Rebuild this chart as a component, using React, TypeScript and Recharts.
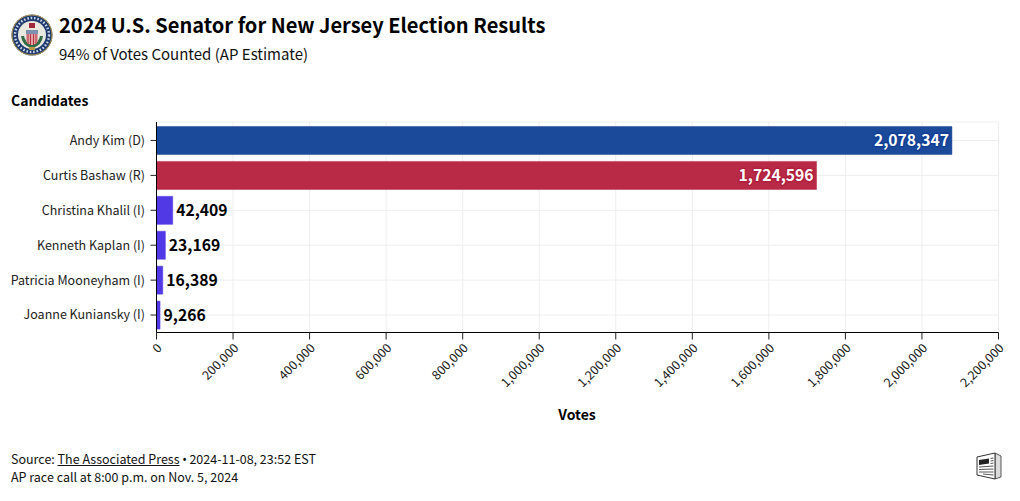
import React from 'react';
import { BarChart, Bar, XAxis, YAxis, CartesianGrid, Cell, LabelList } from 'recharts';

const candidates = [
  'Andy Kim (D)',
  'Curtis Bashaw (R)',
  'Christina Khalil (I)',
  'Kenneth Kaplan (I)',
  'Patricia Mooneyham (I)',
  'Joanne Kuniansky (I)',
];
const votes = [2078347, 1724596, 42409, 23169, 16389, 9266];
const barColors = ['#1c4a9a', '#b82a45', '#5239e6', '#5239e6', '#5239e6', '#5239e6'];
const labelBacks = ['#123f96', '#b01f3e'];
const voteTicks = [0, 200000, 400000, 600000, 800000, 1000000, 1200000, 1400000, 1600000, 1800000, 2000000, 2200000];

const FONT = '"Noto Sans CJK SC", "Noto Sans", sans-serif';
const data = candidates.map((name, i) => ({ name, votes: votes[i] }));

const fmt = (v: number) => v.toLocaleString('en-US');

// big bars get the number inside, small ones next to the bar
const VoteLabel = (props: any) => {
  const { x, y, width, height, value, index } = props;
  const inside = value > 500000;
  const cy = y + height / 2;
  const label = fmt(value);
  if (inside) {
    return (
      <text
        x={x + width - 3}
        y={cy}
        dy="0.36em"
        textAnchor="end"
        fontSize={15.7}
        fontWeight={700}
        fill="#fff"
        stroke={labelBacks[index]}
        strokeWidth={3}
        strokeLinejoin="round"
        paintOrder="stroke"
        fontFamily={FONT}
      >
        {label}
      </text>
    );
  }
  return (
    <text x={x + width + 3.5} y={cy} dy="0.36em" fontSize={15.7} fontWeight={700} fill="#000" fontFamily={FONT}>
      {label}
    </text>
  );
};

const Seal = () => (
  <svg width={42} height={42} viewBox="0 0 42 42" style={{ position: 'absolute', left: 11, top: 14 }}>
    <circle cx={21} cy={21} r={20.5} fill="#1f3a6e" />
    <circle cx={21} cy={21} r={20} fill="none" stroke="#b79a4a" strokeWidth={1} />
    <circle cx={21} cy={21} r={17} fill="none" stroke="#c9d3e6" strokeWidth={2.4} strokeDasharray="1.6 1.8" />
    <circle cx={21} cy={21} r={14} fill="#e9e8e0" />
    <path d="M10 22 Q11 31 20 34 L22 34 Q31 31 32 22 L29 22 Q28 28 21 31 Q14 28 13 22 Z" fill="#2f6b45" />
    <rect x={15} y={16} width={12} height={4} fill="#7f8fae" />
    <path d="M15 20 H27 V26 Q27 30 21 31 Q15 30 15 26 Z" fill="#e3a4a8" />
    <path d="M17 20 V30 M19.5 20 V31 M22.5 20 V31 M25 20 V30" stroke="#b5303f" strokeWidth={1} />
    <rect x={18} y={9} width={6} height={5} fill="#a0283c" />
    <rect x={18} y={33} width={6} height={3} fill="#b79a4a" />
  </svg>
);

const NewsIcon = () => (
  <svg width={28} height={30} viewBox="0 0 28 30" style={{ position: 'absolute', left: 975, top: 451 }}>
    <path d="M20 2 L26 5 V26 L20 28 Z" fill="#dcdcdc" stroke="#333" strokeWidth={0.8} />
    <path d="M2 6 L20 2 V28 L2 24 Z" fill="#fff" stroke="#333" strokeWidth={1} />
    <path d="M4 9 L14 7.5 V12.5 L4 14 Z" fill="#222" />
    <path d="M15.5 7.5 L18.5 7 M15.5 10 L18.5 9.5 M15.5 12.5 L18.5 12 M4 16 L18.5 15 M4 18.5 L18.5 18 M4 21 L18.5 21 M8 23 L18.5 24" stroke="#555" strokeWidth={1} />
  </svg>
);

const footStyle: React.CSSProperties = { position: 'absolute', left: 11, fontSize: 12.5, lineHeight: '18px', color: '#111', whiteSpace: 'nowrap' };

export default function App() {
  return (
    <div style={{ position: 'absolute', left: 0, top: 0, width: 1020, height: 501, background: '#fff', fontFamily: FONT, color: '#000', overflow: 'hidden' }}>
      <Seal />
      <div style={{ position: 'absolute', left: 59, top: 9, fontSize: 20.05, fontWeight: 700, lineHeight: '32px', whiteSpace: 'nowrap' }}>
        2024 U.S. Senator for New Jersey Election Results
      </div>
      <div style={{ position: 'absolute', left: 59, top: 42, fontSize: 15, lineHeight: '24px', whiteSpace: 'nowrap', color: '#111' }}>
        94% of Votes Counted (AP Estimate)
      </div>
      <div style={{ position: 'absolute', left: 11, top: 90, fontSize: 14, fontWeight: 700, lineHeight: '20px' }}>Candidates</div>

      <BarChart
        width={1020}
        height={501}
        data={data}
        layout="vertical"
        barCategoryGap={3.5}
        margin={{ top: 122, right: 21.5, bottom: 108.5, left: 0 }}
        style={{ position: 'absolute', left: 0, top: 0 }}
      >
        <CartesianGrid stroke="#eeeeee" strokeWidth={1} />
        <XAxis
          type="number"
          dataKey="votes"
          domain={[0, 2200000]}
          ticks={voteTicks}
          tickFormatter={fmt}
          interval={0}
          angle={-45}
          textAnchor="end"
          height={60}
          tickSize={7}
          tickMargin={3}
          axisLine={{ stroke: '#000', strokeWidth: 1 }}
          tickLine={{ stroke: '#222', strokeWidth: 1 }}
          tick={{ fontSize: 12.5, fill: '#222', fontFamily: FONT }}
        />
        <YAxis
          type="category"
          dataKey="name"
          width={156.5}
          interval={0}
          padding={{ top: 1, bottom: 0 }}
          tickSize={6}
          tickMargin={5.5}
          axisLine={{ stroke: '#000', strokeWidth: 1 }}
          tickLine={{ stroke: '#222', strokeWidth: 1 }}
          tick={{ fontSize: 12.5, fill: '#222', fontFamily: FONT }}
        />
        <Bar dataKey="votes" isAnimationActive={false} strokeOpacity={0.5} strokeWidth={1}>
          {data.map((d, i) => (
            <Cell key={d.name} fill={barColors[i]} stroke={barColors[i]} />
          ))}
          <LabelList dataKey="votes" content={VoteLabel} />
        </Bar>
      </BarChart>

      <div style={{ position: 'absolute', left: 0, width: 1154, top: 404, textAlign: 'center', fontSize: 14, fontWeight: 700, lineHeight: '20px' }}>Votes</div>
      <div style={{ ...footStyle, top: 450 }}>
        Source: <span style={{ textDecoration: 'underline' }}>The Associated Press</span>
        <span style={{ fontFamily: '"Noto Sans", sans-serif', margin: '0 2.6px' }}>•</span>2024-11-08, 23:52 EST
      </div>
      <div style={{ ...footStyle, top: 468 }}>AP race call at 8:00 p.m. on Nov. 5, 2024</div>
      <NewsIcon />
    </div>
  );
}
